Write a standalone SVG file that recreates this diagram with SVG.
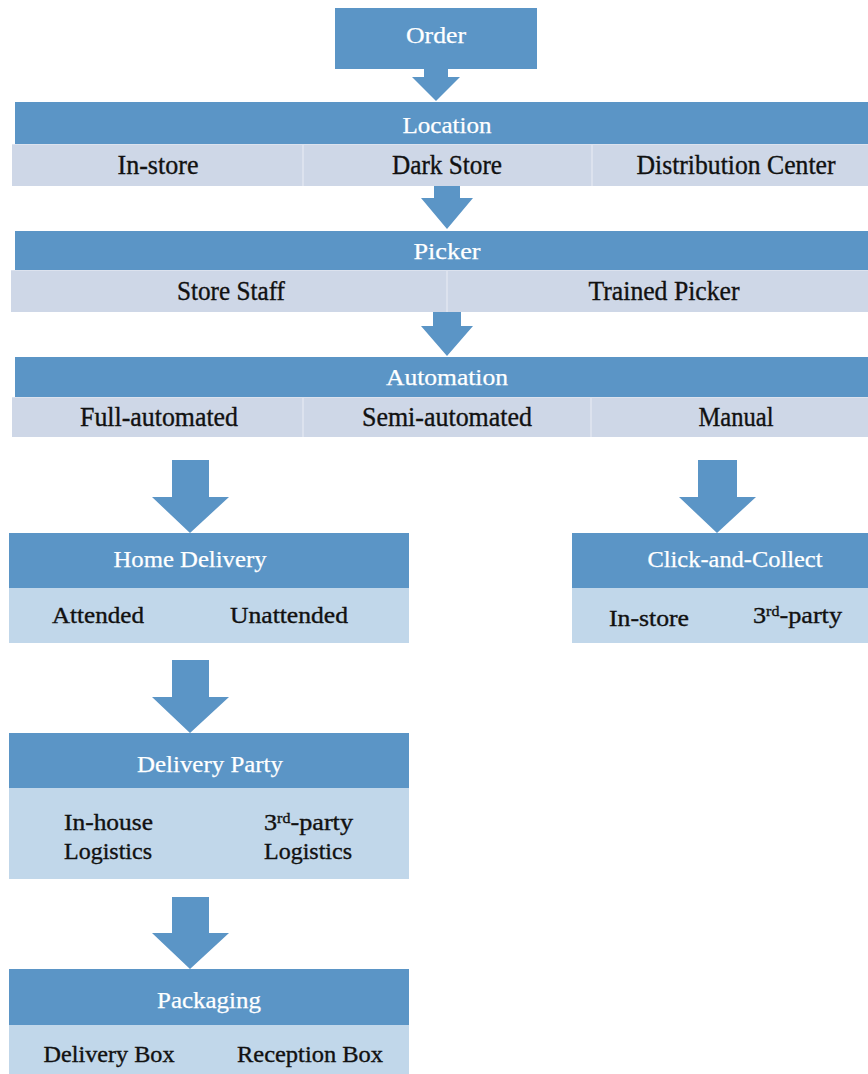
<svg xmlns="http://www.w3.org/2000/svg" width="868" height="1074" viewBox="0 0 868 1074">
  <style>
    .hdr { fill: #5B95C6; }
    .row { fill: #DCE2EE; }
    .cell { fill: #CED7E7; }
    .sub { fill: #C1D7EA; }
    .arrow { fill: #5B95C6; }
    text { font-family: "Liberation Serif", "Times New Roman", serif; text-anchor: middle; }
    .ht { fill: #FFFFFF; font-size: 24px; stroke: #FFFFFF; stroke-width: 0.25; }
    .ct { fill: #111111; font-size: 27px; stroke: #111111; stroke-width: 0.35; }
    .st { fill: #111111; font-size: 23px; stroke: #111111; stroke-width: 0.35; }
    .lt { text-anchor: start; }
    .sup { font-size: 14px; }
  </style>
  <rect width="868" height="1074" fill="#FFFFFF"/>

  <g id="connectors">
    <polygon class="arrow" points="424,69 448,69 448,77 460,77 436,101 412,77 424,77"/>
    <polygon class="arrow" points="434,186 460,186 460,198 473,198 447,229 421,198 434,198"/>
    <polygon class="arrow" points="433,312 461,312 461,326 473,326 447,356 421,326 433,326"/>
    <polygon class="arrow" points="172,460 209,460 209,497 229,497 190,533 152,497 172,497"/>
    <polygon class="arrow" points="698,460 737,460 737,497 756,497 717,533 679,497 698,497"/>
    <polygon class="arrow" points="172,660 209,660 209,697 229,697 190,733 152,697 172,697"/>
    <polygon class="arrow" points="172,897 209,897 209,933 229,933 190,969 152,933 172,933"/>
  </g>

  <g id="order">
    <rect class="hdr" x="335" y="8" width="202" height="61"/>
    <text class="ht" x="436" y="43" textLength="60" lengthAdjust="spacingAndGlyphs">Order</text>
  </g>

  <g id="location">
    <rect class="hdr" x="15" y="102" width="853" height="42"/>
    <text class="ht" x="447" y="133" textLength="89" lengthAdjust="spacingAndGlyphs">Location</text>
    <rect class="row" x="12" y="144" width="856" height="42"/>
    <rect class="cell" x="12" y="145" width="290" height="41"/>
    <rect class="cell" x="304" y="145" width="287" height="41"/>
    <rect class="cell" x="593" y="145" width="275" height="41"/>
    <text class="ct" x="158" y="174" textLength="81" lengthAdjust="spacingAndGlyphs">In-store</text>
    <text class="ct" x="447" y="174" textLength="110" lengthAdjust="spacingAndGlyphs">Dark Store</text>
    <text class="ct" x="736" y="174" textLength="199" lengthAdjust="spacingAndGlyphs">Distribution Center</text>
  </g>

  <g id="picker">
    <rect class="hdr" x="15" y="231" width="853" height="39"/>
    <text class="ht" x="447" y="259" textLength="67" lengthAdjust="spacingAndGlyphs">Picker</text>
    <rect class="row" x="11" y="270" width="857" height="42"/>
    <rect class="cell" x="11" y="271" width="435" height="41"/>
    <rect class="cell" x="448" y="271" width="420" height="41"/>
    <text class="ct" x="231" y="300" textLength="108" lengthAdjust="spacingAndGlyphs">Store Staff</text>
    <text class="ct" x="664" y="300" textLength="151" lengthAdjust="spacingAndGlyphs">Trained Picker</text>
  </g>

  <g id="automation">
    <rect class="hdr" x="15" y="357" width="853" height="40"/>
    <text class="ht" x="447" y="385" textLength="122" lengthAdjust="spacingAndGlyphs">Automation</text>
    <rect class="row" x="12" y="397" width="856" height="40"/>
    <rect class="cell" x="12" y="398" width="290" height="39"/>
    <rect class="cell" x="304" y="398" width="286" height="39"/>
    <rect class="cell" x="592" y="398" width="276" height="39"/>
    <text class="ct" x="159" y="426" textLength="158" lengthAdjust="spacingAndGlyphs">Full-automated</text>
    <text class="ct" x="447" y="426" textLength="170" lengthAdjust="spacingAndGlyphs">Semi-automated</text>
    <text class="ct" x="736" y="426" textLength="75" lengthAdjust="spacingAndGlyphs">Manual</text>
  </g>

  <g id="home-delivery">
    <rect class="hdr" x="9" y="533" width="400" height="55"/>
    <rect class="sub" x="9" y="588" width="400" height="55"/>
    <text class="ht" x="190" y="567" textLength="153" lengthAdjust="spacingAndGlyphs">Home Delivery</text>
    <text class="st" x="98" y="623" textLength="92" lengthAdjust="spacingAndGlyphs">Attended</text>
    <text class="st" x="289" y="623" textLength="118" lengthAdjust="spacingAndGlyphs">Unattended</text>
  </g>

  <g id="click-and-collect">
    <rect class="hdr" x="572" y="533" width="296" height="55"/>
    <rect class="sub" x="572" y="588" width="296" height="55"/>
    <text class="ht" x="735" y="567" textLength="175" lengthAdjust="spacingAndGlyphs">Click-and-Collect</text>
    <text class="st" x="649" y="626" textLength="80" lengthAdjust="spacingAndGlyphs">In-store</text>
    <text class="st lt" x="753" y="623" textLength="89" lengthAdjust="spacingAndGlyphs">3<tspan class="sup" dy="-7">rd</tspan><tspan dy="7">-party</tspan></text>
  </g>

  <g id="delivery-party">
    <rect class="hdr" x="9" y="733" width="400" height="55"/>
    <rect class="sub" x="9" y="788" width="400" height="91"/>
    <text class="ht" x="210" y="772" textLength="146" lengthAdjust="spacingAndGlyphs">Delivery Party</text>
    <text class="st lt" x="64" y="830" textLength="89" lengthAdjust="spacingAndGlyphs">In-house</text>
    <text class="st lt" x="64" y="859" textLength="88" lengthAdjust="spacingAndGlyphs">Logistics</text>
    <text class="st lt" x="264" y="830" textLength="89" lengthAdjust="spacingAndGlyphs">3<tspan class="sup" dy="-7">rd</tspan><tspan dy="7">-party</tspan></text>
    <text class="st lt" x="264" y="859" textLength="88" lengthAdjust="spacingAndGlyphs">Logistics</text>
  </g>

  <g id="packaging">
    <rect class="hdr" x="9" y="969" width="400" height="56"/>
    <rect class="sub" x="9" y="1025" width="400" height="49"/>
    <text class="ht" x="209" y="1008" textLength="104" lengthAdjust="spacingAndGlyphs">Packaging</text>
    <text class="st" x="109" y="1062" textLength="131" lengthAdjust="spacingAndGlyphs">Delivery Box</text>
    <text class="st" x="310" y="1062" textLength="146" lengthAdjust="spacingAndGlyphs">Reception Box</text>
  </g>
</svg>
